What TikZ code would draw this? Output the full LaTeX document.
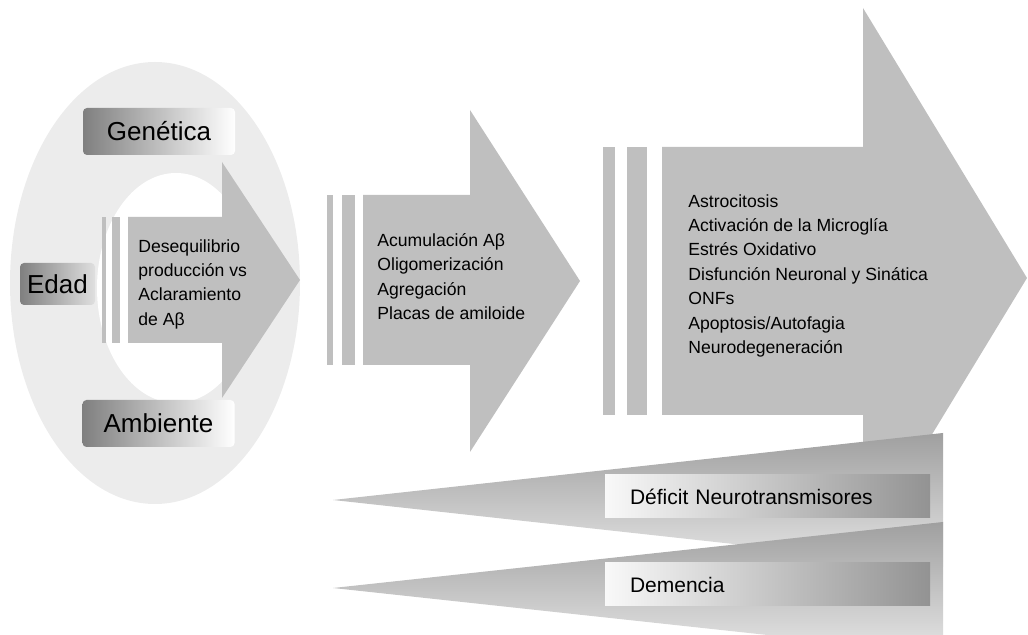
\documentclass[tikz,border=0pt]{standalone}
\usepackage{fontspec}
\setmainfont{Liberation Sans}
\usetikzlibrary{positioning}

\begin{document}
\begin{tikzpicture}[x=0.5pt,y=-0.5pt,
	arrowfill/.style={fill=gray!50},
	factor/.style={left color=gray,right color=white,rounded corners=2pt,inner sep=0pt,minimum width=76pt,minimum height=23.5pt,font=\fontsize{13}{15}\selectfont},
	outcome/.style={left color=gray!5,right color=gray!85,inner xsep=12.5pt,inner ysep=0pt,text width=137.5pt,align=left,minimum height=21.5pt,font=\fontsize{10.5}{12}\selectfont},
	wedge/.style={top color=gray!75,bottom color=gray!20},
	stagetext/.style={anchor=north west,inner sep=0pt,align=left,font=\fontsize{8.8}{12.2}\selectfont}]
	\useasboundingbox (0,0) rectangle (1028,635);
	\clip (0,0) rectangle (1028,635);

	% factores
	\fill[gray!15] (155,283) ellipse [x radius=145, y radius=221];
	\fill[white] (176,288) ellipse [x radius=79, y radius=115];

	% flecha 1
	\fill[arrowfill] (102,217) rectangle (106,343);
	\fill[arrowfill] (112,217) rectangle (120,343);
	\fill[arrowfill] (128,217) -- (222,217) -- (222,162) -- (300,280) -- (222,398) -- (222,343) -- (128,343) -- cycle;
	\node[stagetext] (stage1) at (138,239) {Desequilibrio\\producción vs\\Aclaramiento\\de Aβ};

	\node[factor] (genetica) at (159,131.5) {Genética};
	\node[factor] (ambiente) at (158.5,423.5) {Ambiente};
	\node[factor,right color=gray!25,minimum width=37.5pt,minimum height=21pt] (edad) at (57.5,284) {Edad};

	% flecha 2
	\fill[arrowfill] (327,195) rectangle (333,365);
	\fill[arrowfill] (342,195) rectangle (355,365);
	\fill[arrowfill] (363,195) -- (470,195) -- (470,110) -- (580,281) -- (470,452) -- (470,365) -- (363,365) -- cycle;
	\node[stagetext] (stage2) at (377,233) {Acumulación Aβ\\Oligomerización\\Agregación\\Placas de amiloide};

	% flecha 3
	\fill[arrowfill] (603,147) rectangle (615,415);
	\fill[arrowfill] (627,147) rectangle (647,415);
	\fill[arrowfill] (662,147) -- (863,147) -- (863,8) -- (1027,278) -- (863,548) -- (863,415) -- (662,415) -- cycle;
	\node[stagetext] (stage3) at (688,194) {Astrocitosis\\Activación de la Microglía\\Estrés Oxidativo\\Disfunción Neuronal y Sinática\\ONFs\\Apoptosis/Autofagia\\Neurodegeneración};

	% consecuencias
	\shade[wedge] (333,500) -- (943,433) -- (943,567) -- cycle;
	\shade[wedge] (333,588) -- (943,522) -- (943,654) -- cycle;
	\node[outcome] (deficit) at (767.5,496.5) {Déficit Neurotransmisores};
	\node[outcome] (demencia) at (767.5,584.5) {Demencia};
\end{tikzpicture}
\end{document}
